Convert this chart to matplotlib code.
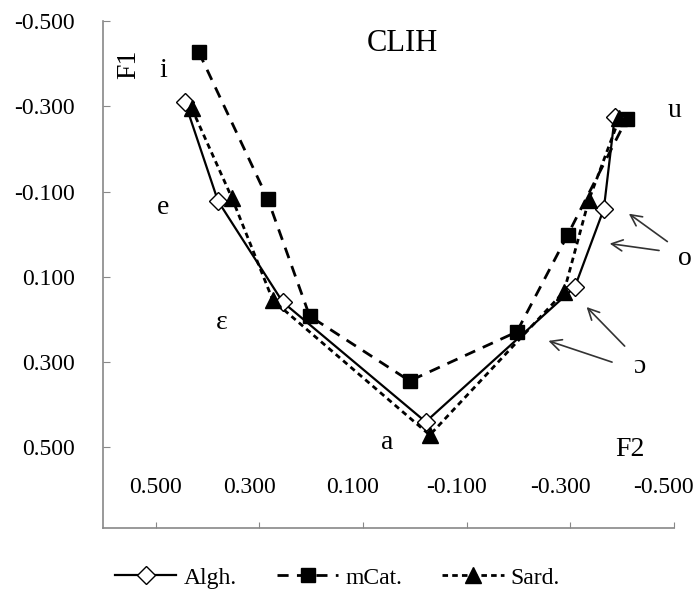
import matplotlib
matplotlib.use("Agg")
import matplotlib.pyplot as plt
import matplotlib.transforms as mtransforms
import numpy as np

plt.rcParams['font.family'] = ['Liberation Serif', 'DejaVu Serif']

# F2 (x) and F1 (y) per vowel: i, e, ɛ, a, ɔ, o, u
algh_f2 = [0.444, 0.380, 0.255, -0.021, -0.309, -0.365, -0.386]
algh_f1 = [-0.310, -0.078, 0.159, 0.440, 0.124, -0.059, -0.275]
mcat_f2 = [0.417, 0.284, 0.203, 0.010, -0.197, -0.295, -0.409]
mcat_f1 = [-0.427, -0.083, 0.192, 0.344, 0.229, 0.002, -0.270]
sard_f2 = [0.431, 0.353, 0.274, -0.029, -0.288, -0.336, -0.395]
sard_f1 = [-0.296, -0.085, 0.155, 0.471, 0.135, -0.080, -0.272]

vowels = ['i', 'e', 'ɛ', 'a', 'u']
vowel_x = [0.485, 0.486, 0.373, 0.054, -0.502]
vowel_y = [-0.385, -0.062, 0.206, 0.489, -0.291]

ticks = [0.5, 0.3, 0.1, -0.1, -0.3, -0.5]

fig = plt.figure(figsize=(6.96, 5.95), dpi=100)
ax = fig.add_axes([0.148, 0.1126, 0.820, 0.852])

ax.plot(algh_f2, algh_f1, color='black', lw=1.6, ls='-', marker='D',
        ms=9, mfc='white', mec='black', mew=1, label='Algh.', zorder=3)
ax.plot(mcat_f2, mcat_f1, color='black', lw=2, ls=(0, (4, 3)), marker='s',
        ms=10, mfc='black', mec='black', label='mCat.', zorder=2)
ax.plot(sard_f2, sard_f1, color='black', lw=2, ls=(0, (2, 1.5)), marker='^',
        ms=11, mfc='black', mec='black', label='Sard.', zorder=4)

ax.set_xlim(0.602, -0.5)
ax.set_ylim(0.689, -0.5)
ax.set_xticks(ticks)
ax.set_yticks(sorted(ticks))
ax.set_xticklabels([f"{t:.3f}" for t in ticks])
ax.set_yticklabels([f"{t:.3f}" for t in sorted(ticks)])

for s in ['top', 'right']:
    ax.spines[s].set_visible(False)
for s in ['left', 'bottom']:
    ax.spines[s].set_color('#888888')
    ax.spines[s].set_linewidth(1.2)
ax.tick_params(axis='x', direction='in', length=4, color='#888888',
               labelsize=17, pad=-36.5)
ax.tick_params(axis='y', direction='in', length=5, color='#888888',
               labelsize=17, pad=20)

# x labels (except the first) sit a little left of their ticks
shift = mtransforms.ScaledTranslation(-10 / 100, 0, fig.dpi_scale_trans)
for lab in ax.get_xticklabels()[1:]:
    lab.set_transform(lab.get_transform() + shift)

ax.text(0.023, -0.448, 'CLIH', fontsize=22, ha='center', va='center')
ax.text(0.552, -0.399, 'F1', fontsize=20, ha='center', va='center', rotation=90)
ax.text(-0.415, 0.504, 'F2', fontsize=20, ha='center', va='center')
for v, x, y in zip(vowels, vowel_x, vowel_y):
    ax.text(x, y, v, fontsize=20, ha='center', va='center')

# arrows pointing from o and ɔ labels
ax.text(-0.521, 0.056, 'o', fontsize=20, ha='center', va='center')
ax.text(-0.434, 0.311, 'ɔ', fontsize=20, ha='center', va='center')
arrows = [((-0.492, 0.021), (-0.409, -0.052)),
          ((-0.477, 0.039), (-0.371, 0.021)),
          ((-0.409, 0.267), (-0.328, 0.166)),
          ((-0.386, 0.302), (-0.253, 0.248))]
for tail, head in arrows:
    ax.annotate('', xy=head, xytext=tail,
                arrowprops=dict(arrowstyle='->,head_length=0.8,head_width=0.4',
                                color='#333333', lw=1.2))

fig.legend(loc='center', bbox_to_anchor=(0.485, 0.029), ncol=3, frameon=False,
           fontsize=17, handlelength=2.6, columnspacing=1.7, handletextpad=0.3)

fig.savefig('out.png', dpi=100)
